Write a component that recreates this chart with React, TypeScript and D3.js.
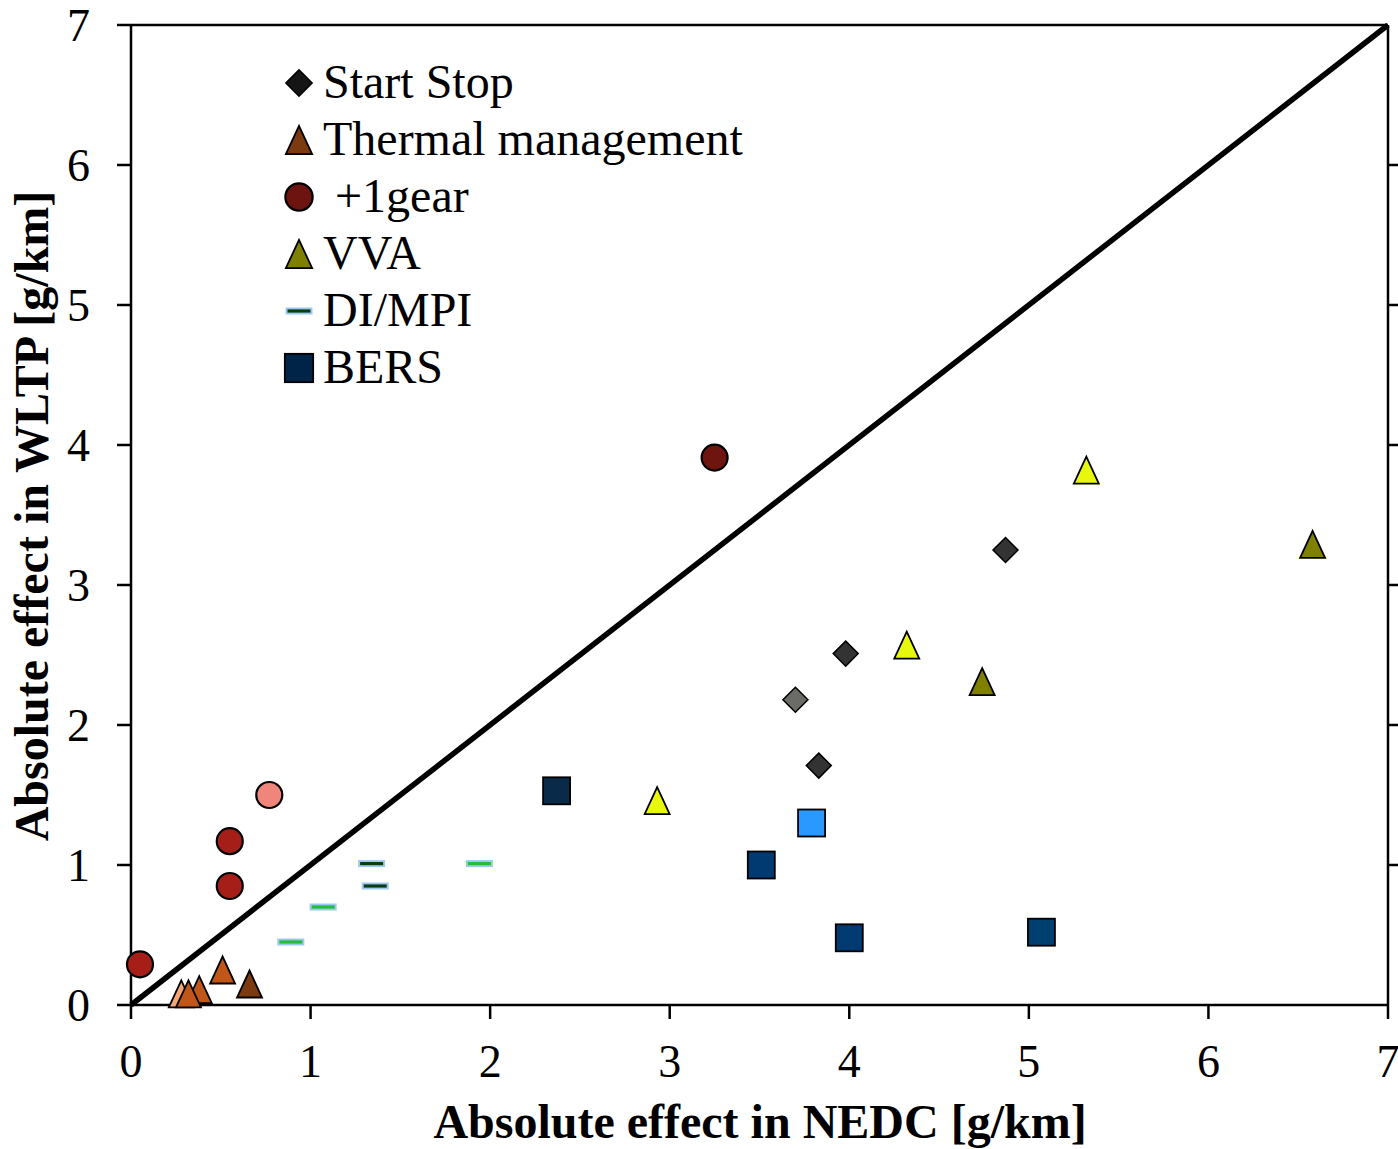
import React from "react";
import * as d3 from "d3";

const W = 1398;
const H = 1149;

const xTicks = [0, 1, 2, 3, 4, 5, 6, 7];
const yTicks = [0, 1, 2, 3, 4, 5, 6, 7];

const startStop: [number, number][] = [
  [4.87, 3.25],
  [3.98, 2.51],
  [3.70, 2.18],
  [3.83, 1.71],
];
const startStopFills = ["#333333", "#333333", "#6b6b68", "#333333"];

const thermal: [number, number][] = [
  [0.28, 0.08],
  [0.38, 0.11],
  [0.32, 0.08],
  [0.51, 0.25],
  [0.66, 0.15],
];
const thermalFills = ["#f4a679", "#c0561a", "#c0561a", "#c0561a", "#7b3a10"];

const gear: [number, number][] = [
  [3.25, 3.91],
  [0.77, 1.50],
  [0.55, 1.17],
  [0.55, 0.85],
  [0.05, 0.29],
];
const gearFills = ["#6e1510", "#f0857c", "#a51f18", "#a51f18", "#a51f18"];

const vva: [number, number][] = [
  [5.32, 3.82],
  [6.58, 3.29],
  [4.32, 2.57],
  [4.74, 2.31],
  [2.93, 1.46],
];
const vvaFills = ["#e8f80c", "#808000", "#e8f80c", "#808000", "#e8f80c"];

const diMpi: [number, number][] = [
  [0.89, 0.45],
  [1.07, 0.70],
  [1.34, 1.01],
  [1.36, 0.85],
  [1.94, 1.01],
];
const diMpiFills = ["#22c032", "#22c032", "#0b3d12", "#0b3d12", "#22c032"];

const bers: [number, number][] = [
  [2.37, 1.53],
  [3.79, 1.30],
  [3.51, 1.00],
  [4.00, 0.48],
  [5.07, 0.52],
];
const bersFills = ["#0a2a4a", "#2999ff", "#003a70", "#003a70", "#004070"];

const legendLabels = ["Start Stop", "Thermal management", " +1gear", "VVA", "DI/MPI", "BERS"];
const legendFills = ["#151515", "#7b3a10", "#6e1410", "#808000", "#0b3d12", "#002448"];

const FONT = "'Liberation Serif', 'Times New Roman', serif";

function diamond(cx: number, cy: number, s: number) {
  const r = s / 2;
  return `M${cx},${cy - r}L${cx + r},${cy}L${cx},${cy + r}L${cx - r},${cy}Z`;
}
function triangle(cx: number, cy: number, w: number, h: number) {
  return `M${cx},${cy - h / 2}L${cx + w / 2},${cy + h / 2}L${cx - w / 2},${cy + h / 2}Z`;
}

function Marker({ kind, cx, cy, fill, legend }: { kind: string; cx: number; cy: number; fill: string; legend?: boolean }) {
  const k = legend ? 1.05 : 1;
  if (kind === "diamond")
    return <path d={diamond(cx, cy, 25 * k)} fill={fill} stroke="#000" strokeWidth={1.5} />;
  if (kind === "triangle")
    return <path d={triangle(cx, cy, 25 * k, 27 * k)} fill={fill} stroke="#000" strokeWidth={1.8} strokeLinejoin="miter" />;
  if (kind === "circle")
    return <circle cx={cx} cy={cy} r={13 * k} fill={fill} stroke="#000" strokeWidth={2.2} />;
  if (kind === "square")
    return <rect x={cx - 13.5 * k} y={cy - 13.5 * k} width={27 * k} height={27 * k} fill={fill} stroke="#000" strokeWidth={1.8} />;
  // dash
  return (
    <g>
      <rect x={cx - 13.5} y={cy - 3.5} width={27} height={7} fill="#9cc8f2" />
      <rect x={cx - 11.5} y={cy - 1.6} width={23} height={3.2} fill={fill} />
    </g>
  );
}

export default function App() {
  const x = d3.scaleLinear().domain([0, 7]).range([131, 1388]);
  const y = d3.scaleLinear().domain([0, 7]).range([1005, 25]);

  const series: { kind: string; data: [number, number][]; fills: string[] }[] = [
    { kind: "dash", data: diMpi, fills: diMpiFills },
    { kind: "triangle", data: thermal, fills: thermalFills },
    { kind: "circle", data: gear, fills: gearFills },
    { kind: "diamond", data: startStop, fills: startStopFills },
    { kind: "triangle", data: vva, fills: vvaFills },
    { kind: "square", data: bers, fills: bersFills },
  ];
  const legendKinds = ["diamond", "triangle", "circle", "triangle", "dash", "square"];

  const line = d3.line<[number, number]>().x((d) => x(d[0])).y((d) => y(d[1]));

  return (
    <svg width={W} height={H} style={{ position: "absolute", left: 0, top: 0, background: "#fff" }} fontFamily={FONT}>
      <rect width={W} height={H} fill="#fff" />
      {/* frame */}
      <g stroke="#000" strokeWidth={2.5} fill="none">
        <line x1={x(0)} x2={x(0)} y1={y(7)} y2={y(0)} />
        <line x1={x(0)} x2={x(7)} y1={y(0)} y2={y(0)} />
        <line x1={x(0)} x2={x(7)} y1={y(7)} y2={y(7)} />
        <line x1={x(7)} x2={x(7)} y1={y(7)} y2={y(0)} />
        {yTicks.map((t) => (
          <line key={"yl" + t} x1={x(0) - 14} x2={x(0)} y1={y(t)} y2={y(t)} />
        ))}
        {yTicks.filter((t) => t > 0 && t < 7).map((t) => (
          <line key={"yr" + t} x1={x(7)} x2={x(7) + 12} y1={y(t)} y2={y(t)} />
        ))}
        {xTicks.map((t) => (
          <line key={"xt" + t} x1={x(t)} x2={x(t)} y1={y(0)} y2={y(0) + 14} />
        ))}
      </g>
      {/* tick labels */}
      <g fontSize={46} fill="#000">
        {yTicks.map((t) => (
          <text key={"ylab" + t} x={90} y={y(t) + 16} textAnchor="end">
            {t}
          </text>
        ))}
        {xTicks.map((t) => (
          <text key={"xlab" + t} x={x(t)} y={y(0) + 72} textAnchor="middle">
            {t}
          </text>
        ))}
      </g>
      {/* axis titles */}
      <text x={760} y={1138} textAnchor="middle" fontSize={48} fontWeight="bold">
        Absolute effect in NEDC [g/km]
      </text>
      <text transform="translate(48,516) rotate(-90)" textAnchor="middle" fontSize={48} fontWeight="bold">
        Absolute effect in WLTP [g/km]
      </text>
      {/* diagonal */}
      <path d={line([[0, 0], [7, 7]]) || ""} stroke="#000" strokeWidth={5.5} fill="none" />
      {/* markers */}
      {series.map((s, si) => (
        <g key={"s" + si}>
          {s.data.map((d, i) => (
            <Marker key={i} kind={s.kind} cx={x(d[0])} cy={y(d[1])} fill={s.fills[i]} />
          ))}
        </g>
      ))}
      {/* legend */}
      <g>
        {legendLabels.map((lab, i) => {
          const cy = 83 + i * 57;
          return (
            <g key={"lg" + i}>
              <Marker kind={legendKinds[i]} cx={299} cy={cy} fill={legendFills[i]} legend />
              <text x={323} y={cy + 15} fontSize={48} style={{ whiteSpace: "pre" }} xmlSpace="preserve">
                {lab}
              </text>
            </g>
          );
        })}
      </g>
    </svg>
  );
}
